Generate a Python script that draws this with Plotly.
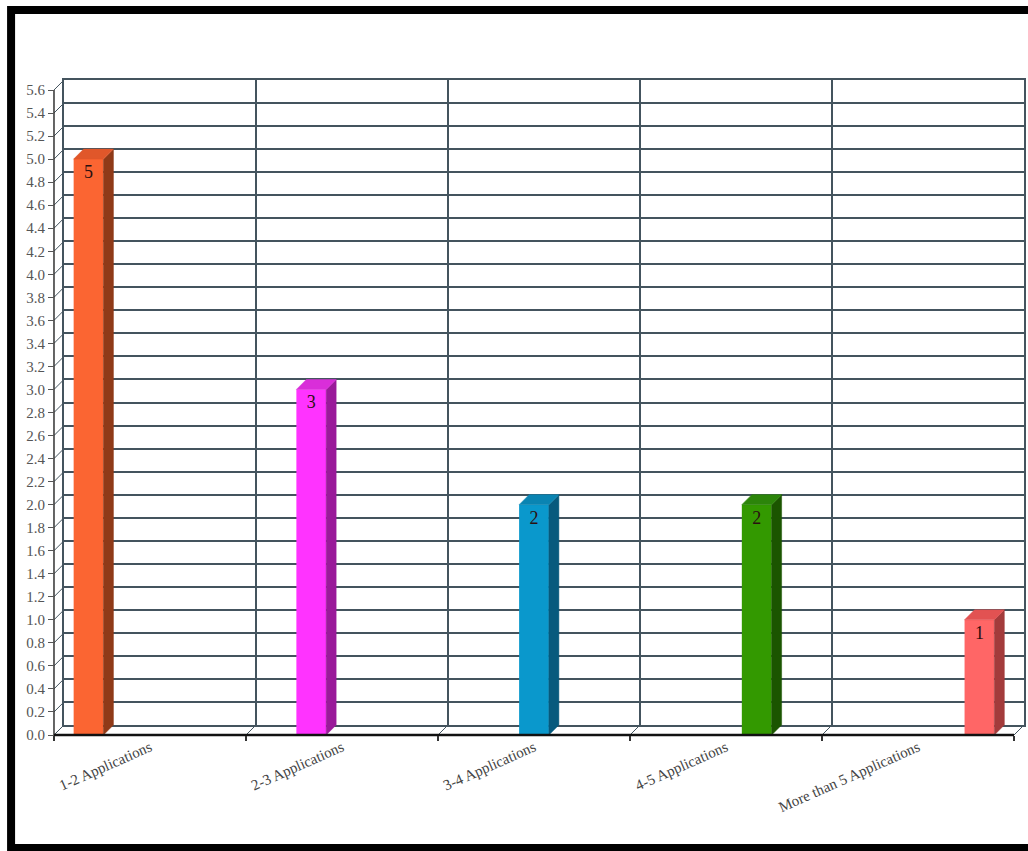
import plotly.graph_objects as go

# ---------------- data ----------------
categories = ["1-2 Applications", "2-3 Applications", "3-4 Applications",
              "4-5 Applications", "More than 5 Applications"]
values = [5, 3, 2, 2, 1]
y_max = 5.6
y_step = 0.2

# ---------------- styles ----------------
front_colors = ["#fb6532", "#ff33ff", "#0a98cc", "#339900", "#ff6666"]
top_colors = ["#e0572a", "#d92ed9", "#0a84b2", "#2c850a", "#e25252"]
side_colors = ["#8f3a18", "#9a1a9a", "#075a7d", "#1b5500", "#a33b3b"]
grid_color = "#44545e"
ytick_font = dict(family="Liberation Serif", size=15, color="#555555")
xtick_font = dict(family="Liberation Serif", size=15, color="#444444")

# ---------------- layout geometry (pixels) ----------------
W, H = 1028, 851
L, R, T, B = 50, 1026, 80, 739          # plot area
FX0, FX1 = 54, 1016                      # front x extent
FY0, FY1 = 735, 90                       # front y: 0 and y_max
DX, DY = 10, 10                          # 3D depth offset
n = len(categories)
ux = (FX1 - FX0) / n
uy = (FY0 - FY1) / y_max
dx, dy = DX / ux, DY / uy

bargap = 0.2
slot = (1 - bargap) / n
bw = slot * 0.97

fig = go.Figure()

# dummy trace for the back wall subplot
fig.add_trace(go.Scatter(x=[None], y=[None], xaxis="x", yaxis="y",
                         showlegend=False, hoverinfo="skip"))

# depth diagonals from the front axes to the back wall
diag_x, diag_y = [], []
k = 0
while k * y_step <= y_max + 1e-9:
    v = k * y_step
    diag_x += [-0.5, -0.5 + dx, None]
    diag_y += [v, v + dy, None]
    k += 1
for i in range(n + 1):
    b = -0.5 + i
    diag_x += [b, b + dx, None]
    diag_y += [0, dy, None]
fig.add_trace(go.Scatter(x=diag_x, y=diag_y, mode="lines", xaxis="x2", yaxis="y2",
                         line=dict(color=grid_color, width=1),
                         showlegend=False, hoverinfo="skip"))

# bars with 3D faces
for i, (cat, v) in enumerate(zip(categories, values)):
    c = (i - (n - 1) / 2) * slot
    xl = i + c - bw / 2
    xr = xl + bw
    fig.add_trace(go.Bar(
        x=[i], y=[v], width=[bw], offset=[c - bw / 2], name=cat,
        xaxis="x2", yaxis="y2",
        marker=dict(color=front_colors[i], line=dict(width=0)),
        text=[str(v)], textposition="inside", insidetextanchor="end",
        textangle=0,
        insidetextfont=dict(family="Liberation Serif", size=18, color="#2a1010"),
        showlegend=False))
    fig.add_trace(go.Scatter(
        x=[xr, xr + dx, xr + dx, xr, xr], y=[0, dy, v + dy, v, 0],
        mode="lines", fill="toself", fillcolor=side_colors[i],
        line=dict(color=side_colors[i], width=0.5),
        xaxis="x2", yaxis="y2", showlegend=False, hoverinfo="skip"))
    fig.add_trace(go.Scatter(
        x=[xl, xl + dx, xr + dx, xr, xl], y=[v, v + dy, v + dy, v, v],
        mode="lines", fill="toself", fillcolor=top_colors[i],
        line=dict(color=top_colors[i], width=0.5),
        xaxis="x2", yaxis="y2", showlegend=False, hoverinfo="skip"))

# front axis lines
fig.add_trace(go.Scatter(x=[-0.5, -0.5], y=[0, y_max], mode="lines",
                         xaxis="x2", yaxis="y2",
                         line=dict(color="#333333", width=1.5),
                         showlegend=False, hoverinfo="skip"))
fig.add_trace(go.Scatter(x=[-0.5, n - 0.5], y=[0, 0], mode="lines",
                         xaxis="x2", yaxis="y2",
                         line=dict(color="#111111", width=2.5),
                         showlegend=False, hoverinfo="skip"))

boundaries = [-0.5 + i for i in range(n + 1)]

fig.update_layout(
    width=W, height=H,
    margin=dict(l=L, r=W - R, t=T, b=H - B, pad=0),
    paper_bgcolor="white",
    plot_bgcolor="rgba(0,0,0,0)",
    showlegend=False,
    barmode="overlay",
    # back wall
    xaxis=dict(domain=[(FX0 + DX - L) / (R - L), 1], range=[-0.5, n - 0.5],
               tickmode="array", tickvals=boundaries, showticklabels=False,
               ticks="", showgrid=True, gridcolor=grid_color, gridwidth=1.6,
               zeroline=False, showline=True, mirror=True,
               linecolor=grid_color, linewidth=1.6, anchor="y"),
    yaxis=dict(domain=[(B - (FY0 - DY)) / (B - T), (B - (FY1 - DY)) / (B - T)],
               range=[0, y_max], tick0=0, dtick=y_step, showticklabels=False,
               ticks="", showgrid=True, gridcolor=grid_color, gridwidth=1.6,
               zeroline=False, showline=True, mirror=True,
               linecolor=grid_color, linewidth=1.6, anchor="x"),
    # front axes
    xaxis2=dict(domain=[0, 1],
                range=[-0.5 - (FX0 - L) / ux, -0.5 + (R - FX0) / ux],
                tickmode="array", tickvals=list(range(n)), ticktext=categories,
                ticks="", tickangle=-24, tickfont=xtick_font,
                showgrid=False, zeroline=False, showline=False,
                anchor="free", position=(B - FY0) / (B - T), side="bottom",
                minor=dict(tickmode="array", tickvals=boundaries, ticks="outside",
                           ticklen=5, tickcolor="#333333", tickwidth=1.5,
                           showgrid=False)),
    yaxis2=dict(domain=[0, 1],
                range=[-(B - FY0) / uy, (FY0 - T) / uy],
                tick0=0, dtick=y_step, tickformat=".1f",
                ticks="outside", ticklen=6, tickcolor="#555555", tickwidth=1,
                tickfont=ytick_font, showgrid=False, zeroline=False,
                showline=False, anchor="free", position=(FX0 - L) / (R - L),
                side="left"),
    shapes=[dict(type="rect", xref="paper", yref="paper",
                 x0=(11 - L) / (R - L), x1=(1040 - L) / (R - L),
                 y0=(B - 848) / (B - T), y1=(B - 10) / (B - T),
                 line=dict(color="black", width=8), fillcolor="rgba(0,0,0,0)",
                 layer="above")],
)

fig.write_html("out.html")
